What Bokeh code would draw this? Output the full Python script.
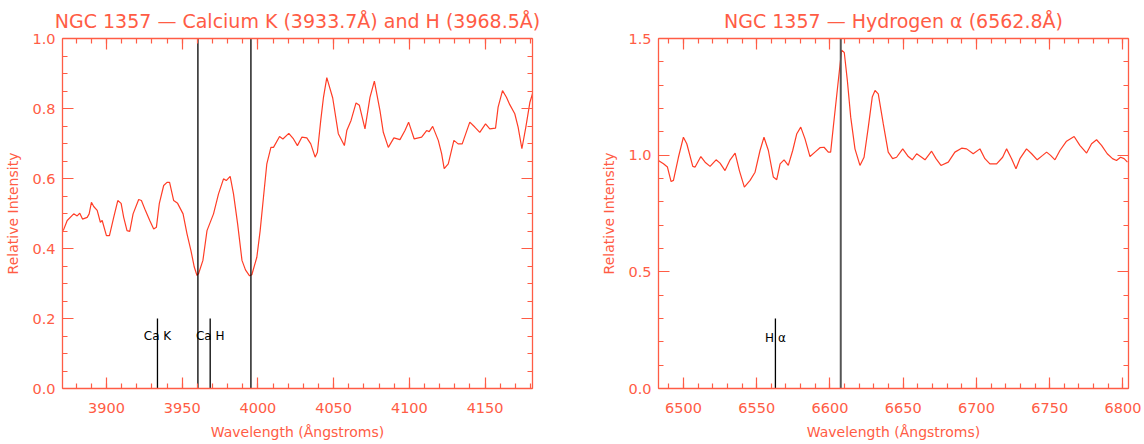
from bokeh.plotting import figure
from bokeh.models import Range1d, LinearAxis, FixedTicker, PrintfTickFormatter
from bokeh.layouts import row
from bokeh.embed import file_html
from bokeh.resources import INLINE
from bokeh.core.properties import value

# ---------------- data ----------------
ca_wave = [3871.5, 3874.1, 3878.4, 3880.7, 3882.4, 3884.2, 3887.3, 3888.6, 3890.1, 3891.6,
           3893.9, 3896.0, 3897.2, 3900.0, 3902.0, 3904.8, 3907.5, 3909.7, 3911.4, 3913.6,
           3915.4, 3917.6, 3921.3, 3923.1, 3925.7, 3928.6, 3931.2, 3933.0, 3934.9, 3937.8,
           3940.0, 3941.7, 3944.4, 3947.0, 3950.6, 3953.2, 3955.8, 3958.0, 3959.8, 3960.8,
           3963.7, 3966.4, 3970.7, 3974.0, 3977.3, 3979.1, 3981.7, 3983.9, 3986.6, 3989.5,
           3991.8, 3994.5, 3996.0, 3999.3, 4001.5, 4003.7, 4005.9, 4008.6, 4010.3, 4014.3,
           4016.5, 4020.4, 4023.5, 4026.1, 4029.0, 4032.3, 4034.9, 4037.8, 4039.3, 4041.5,
           4043.3, 4045.5, 4049.4, 4053.1, 4057.1, 4058.7, 4061.5, 4064.8, 4067.0, 4070.7,
           4074.0, 4076.9, 4080.6, 4082.8, 4086.1, 4089.8, 4093.8, 4097.1, 4099.5, 4103.2,
           4108.1, 4111.4, 4113.1, 4115.4, 4119.1, 4121.3, 4123.0, 4125.7, 4129.4, 4132.2,
           4134.9, 4139.9, 4143.2, 4146.5, 4150.3, 4153.1, 4156.9, 4158.6, 4161.5, 4164.1,
           4166.3, 4169.6, 4171.8, 4174.3, 4176.9, 4179.6, 4181.3]
ca_flux = [0.451, 0.480, 0.499, 0.493, 0.501, 0.484, 0.489, 0.499, 0.532, 0.520,
           0.509, 0.475, 0.480, 0.437, 0.437, 0.489, 0.537, 0.529, 0.489, 0.451,
           0.449, 0.499, 0.540, 0.537, 0.509, 0.480, 0.456, 0.461, 0.528, 0.580,
           0.589, 0.589, 0.537, 0.529, 0.499, 0.442, 0.394, 0.347, 0.323, 0.328,
           0.366, 0.451, 0.499, 0.556, 0.599, 0.594, 0.606, 0.556, 0.471, 0.366,
           0.339, 0.322, 0.325, 0.375, 0.451, 0.547, 0.642, 0.689, 0.689, 0.720,
           0.713, 0.729, 0.713, 0.694, 0.718, 0.716, 0.699, 0.661, 0.675, 0.766,
           0.832, 0.888, 0.830, 0.728, 0.694, 0.737, 0.766, 0.816, 0.809, 0.742,
           0.832, 0.878, 0.794, 0.732, 0.689, 0.716, 0.711, 0.737, 0.761, 0.713,
           0.718, 0.737, 0.734, 0.749, 0.709, 0.671, 0.628, 0.642, 0.709, 0.699,
           0.699, 0.761, 0.747, 0.732, 0.756, 0.742, 0.744, 0.804, 0.851, 0.832,
           0.811, 0.785, 0.747, 0.685, 0.747, 0.818, 0.842]

ha_wave = [6482.9, 6486.4, 6489.1, 6491.6, 6493.2, 6496.6, 6500.0, 6502.3, 6506.4, 6508.0,
           6511.9, 6514.8, 6518.2, 6522.3, 6525.0, 6528.4, 6531.9, 6535.3, 6538.2, 6541.6,
           6545.5, 6548.9, 6552.3, 6555.0, 6558.0, 6561.4, 6563.7, 6566.0, 6568.7, 6571.6,
           6574.6, 6577.4, 6580.1, 6583.0, 6586.4, 6589.8, 6593.2, 6596.0, 6598.9, 6600.5,
           6602.3, 6605.0, 6608.0, 6609.8, 6611.9, 6614.2, 6617.1, 6620.5, 6623.3, 6626.2,
           6628.9, 6630.8, 6633.0, 6636.4, 6639.8, 6642.8, 6645.5, 6649.7, 6653.5, 6656.2,
           6659.2, 6662.6, 6664.9, 6669.4, 6672.4, 6675.8, 6680.8, 6685.3, 6689.9, 6693.3,
           6697.8, 6702.4, 6705.8, 6709.2, 6713.8, 6717.9, 6720.6, 6724.0, 6727.0, 6729.7,
           6734.2, 6737.7, 6741.5, 6745.2, 6747.9, 6750.6, 6753.6, 6757.0, 6761.5, 6766.7,
           6770.6, 6775.2, 6778.6, 6782.0, 6785.4, 6789.3, 6792.9, 6795.6, 6798.4, 6800.8,
           6803.1]
ha_flux = [0.977, 0.963, 0.949, 0.887, 0.892, 0.991, 1.077, 1.049, 0.952, 0.949,
           0.994, 0.970, 0.952, 0.980, 0.966, 0.934, 0.980, 1.009, 0.934, 0.863,
           0.892, 0.927, 1.020, 1.077, 1.020, 0.906, 0.895, 0.963, 0.980, 0.956,
           1.020, 1.092, 1.120, 1.070, 0.994, 1.013, 1.032, 1.034, 1.013, 1.013,
           1.120, 1.277, 1.450, 1.440, 1.320, 1.163, 1.027, 0.956, 0.991, 1.120,
           1.249, 1.277, 1.263, 1.135, 1.013, 0.985, 0.991, 1.027, 0.994, 0.980,
           1.006, 0.991, 0.980, 1.017, 0.985, 0.956, 0.970, 1.013, 1.030, 1.027,
           1.006, 1.027, 0.985, 0.963, 0.963, 0.991, 1.027, 0.985, 0.942, 0.985,
           1.027, 1.006, 0.980, 0.999, 1.013, 0.999, 0.980, 1.020, 1.060, 1.080,
           1.042, 1.009, 1.049, 1.066, 1.042, 1.006, 0.985, 0.977, 0.991, 0.985,
           0.970]

ca_rest = [3933.7, 3968.5]
ca_labels = ["Ca K", "Ca H"]
ca_observed = [3960.4, 3995.4]
ha_rest = [6562.8]
ha_labels = ["H \u03b1"]
ha_observed = [6607.4]

ca_xticks = [3900, 3950, 4000, 4050, 4100, 4150]
ca_xminor = list(range(3880, 4190, 10))
ca_yticks = [0.0, 0.2, 0.4, 0.6, 0.8, 1.0]
ca_yminor = [round(i * 0.05, 2) for i in range(0, 21)]
ha_xticks = [6500, 6550, 6600, 6650, 6700, 6750, 6800]
ha_xminor = list(range(6490, 6810, 10))
ha_yticks = [0.0, 0.5, 1.0, 1.5]
ha_yminor = [round(i * 0.1, 1) for i in range(0, 16)]

AXC = "#ff5c45"
CURVE = "#ff3d26"
FONT = "DejaVu Sans"


def make_fig(width, border_left, border_right, xr, yr, title):
    p = figure(width=width, height=444, output_backend="svg", toolbar_location=None,
               x_range=Range1d(*xr), y_range=Range1d(*yr),
               min_border_left=border_left, min_border_right=border_right,
               min_border_top=38, min_border_bottom=56)
    p.grid.visible = False
    p.outline_line_color = None
    p.background_fill_color = "white"
    p.border_fill_color = "white"
    p.title.text = title
    p.title.align = "center"
    p.title.text_font = FONT
    p.title.text_font_size = "19px"
    p.title.text_font_style = "normal"
    p.title.text_color = AXC
    p.title.standoff = 14
    return p


def style_axes(p, xt, xm, yt, ym, xlabel, ylabel):
    xtick = FixedTicker(ticks=xt, minor_ticks=xm)
    ytick = FixedTicker(ticks=yt, minor_ticks=ym)
    bottom = p.below[0]
    left = p.left[0]
    above = LinearAxis(ticker=xtick)
    right = LinearAxis(ticker=ytick)
    p.add_layout(above, "above")
    p.add_layout(right, "right")
    bottom.ticker = xtick
    left.ticker = ytick
    left.formatter = PrintfTickFormatter(format="%.1f")
    for ax in [bottom, left, above, right]:
        ax.axis_line_color = AXC
        ax.axis_line_width = 1.3
        ax.major_tick_line_color = AXC
        ax.minor_tick_line_color = AXC
        ax.major_tick_line_width = 1.2
        ax.minor_tick_line_width = 1.2
        ax.major_tick_in = 11
        ax.major_tick_out = 0
        ax.minor_tick_in = 5
        ax.minor_tick_out = 0
        ax.major_label_text_color = AXC
        ax.major_label_text_font = FONT
        ax.major_label_text_font_size = "14.5px"
        ax.axis_label_text_color = AXC
        ax.axis_label_text_font = FONT
        ax.axis_label_text_font_size = "14px"
        ax.axis_label_text_font_style = "normal"
    above.major_label_overrides = {t: "" for t in xt}
    right.major_label_overrides = {t: "" for t in yt}
    for ax in [above, right]:
        ax.major_label_standoff = 0
        ax.major_label_text_font_size = "1px"
    bottom.axis_label = xlabel
    left.axis_label = ylabel
    bottom.major_label_standoff = 14
    bottom.axis_label_standoff = 8
    left.major_label_standoff = 7
    left.axis_label_standoff = 8


# ---------------- left panel ----------------
p1 = make_fig(570, 62, 38, (3871.0, 4181.3), (0.0, 1.0),
              "NGC 1357 \u2014 Calcium K (3933.7\u00c5) and H (3968.5\u00c5)")
style_axes(p1, ca_xticks, ca_xminor, ca_yticks, ca_yminor,
           "Wavelength (\u00c5ngstroms)", "Relative Intensity")
p1.line(ca_wave, ca_flux, line_color=CURVE, line_width=1.2)
p1.segment(x0=ca_observed, y0=[0.0] * len(ca_observed), x1=ca_observed,
           y1=[1.0] * len(ca_observed), line_color="black", line_width=1.3)
p1.segment(x0=ca_rest, y0=[0.0] * len(ca_rest), x1=ca_rest, y1=[0.2] * len(ca_rest),
           line_color="black", line_width=1.3)
p1.text(x=ca_rest, y=[0.15] * len(ca_rest), text=ca_labels, text_align="center",
        text_baseline="middle", text_color="black", text_font=value(FONT),
        text_font_size="12px")

# ---------------- right panel ----------------
p2 = make_fig(574, 88, 16, (6483.0, 6803.8), (0.0, 1.5),
              "NGC 1357 \u2014 Hydrogen \u03b1 (6562.8\u00c5)")
style_axes(p2, ha_xticks, ha_xminor, ha_yticks, ha_yminor,
           "Wavelength (\u00c5ngstroms)", "Relative Intensity")
p2.line(ha_wave, ha_flux, line_color=CURVE, line_width=1.2)
p2.segment(x0=ha_observed, y0=[0.0] * len(ha_observed), x1=ha_observed,
           y1=[1.5] * len(ha_observed), line_color="#555555", line_width=2)
p2.segment(x0=ha_rest, y0=[0.0] * len(ha_rest), x1=ha_rest, y1=[0.3] * len(ha_rest),
           line_color="black", line_width=1.3)
p2.text(x=ha_rest, y=[0.215] * len(ha_rest), text=ha_labels, text_align="center",
        text_baseline="middle", text_color="black", text_font=value(FONT),
        text_font_size="12px")

layout = row(p1, p2)
open("out.html", "w").write(file_html(layout, INLINE))
